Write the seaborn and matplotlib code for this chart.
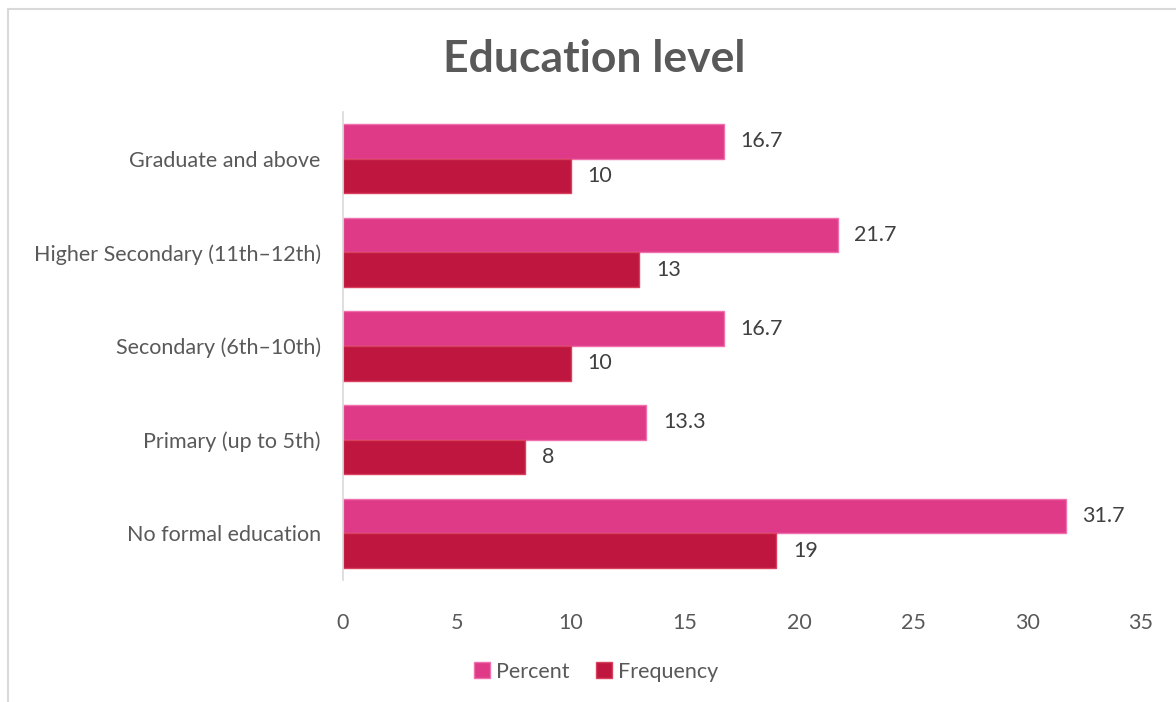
import matplotlib
matplotlib.use("Agg")
import matplotlib.pyplot as plt
import seaborn as sns
import pandas as pd
from matplotlib.patches import Patch
from matplotlib.lines import Line2D

categories = ["Graduate and above", "Higher Secondary (11th\u201312th)",
              "Secondary (6th\u201310th)", "Primary (up to 5th)", "No formal education"]
percent = [16.7, 21.7, 16.7, 13.3, 31.7]
frequency = [10, 13, 10, 8, 19]
series = ["Percent", "Frequency"]
colors = {"Percent": "#DE3A88", "Frequency": "#BE163E"}
edge_colors = {"Percent": "#F070AE", "Frequency": "#D8405E"}
xticks = [0, 5, 10, 15, 20, 25, 30, 35]

df = pd.DataFrame({
    "Education": categories * 2,
    "Value": percent + frequency,
    "Series": ["Percent"] * len(categories) + ["Frequency"] * len(categories),
})

sns.set_style("white")
plt.rcParams["font.family"] = ["Lato", "DejaVu Sans"]

fig = plt.figure(figsize=(11.76, 7.02), dpi=100)
ax = fig.add_axes([0.2917, 0.1738, 0.6786, 0.6667])

sns.barplot(data=df, y="Education", x="Value", hue="Series", order=categories,
            hue_order=series, palette=colors, width=0.74, orient="h", ax=ax,
            legend=False, saturation=1, gap=0)

for container, s in zip(ax.containers, series):
    for bar in container:
        bar.set_edgecolor(edge_colors[s])
        bar.set_linewidth(1.0)
    ax.bar_label(container, labels=[f"{v:g}" for v in (percent if s == "Percent" else frequency)],
                 padding=12, fontsize=15.5, color="#404040")

ax.set_xlim(0, 35)
ax.set_xticks(xticks)
ax.set_xticklabels([str(t) for t in xticks], fontsize=15.5, color="#595959")
ax.tick_params(axis="y", labelsize=15.5, labelcolor="#595959", length=0, pad=16)
ax.tick_params(axis="x", length=0, pad=24)
ax.set_xlabel("")
ax.set_ylabel("")
for side in ["top", "right", "bottom"]:
    ax.spines[side].set_visible(False)
ax.spines["left"].set_color("#D9D9D9")
ax.spines["left"].set_linewidth(1.2)
ax.set_ylim(4.5, -0.5)

fig.suptitle("Education level", x=0.505, y=0.945, fontsize=32, fontweight="bold", color="#595959")

handles = [Patch(facecolor=colors[s], edgecolor=edge_colors[s]) for s in series]
fig.legend(handles, series, loc="center", bbox_to_anchor=(0.507, 0.043), ncol=2,
           frameon=False, fontsize=15.5, labelcolor="#595959", handlelength=0.75,
           handleheight=0.75, handletextpad=0.3, columnspacing=1.2)

# outer chart frame
fig.add_artist(Line2D([8/1176, 1.0], [1 - 9/702, 1 - 9/702], color="#D9D9D9", lw=1.5,
                      transform=fig.transFigure))
fig.add_artist(Line2D([8/1176, 8/1176], [0.0, 1 - 9/702], color="#D9D9D9", lw=1.5,
                      transform=fig.transFigure))

fig.savefig("out.png", dpi=100)
